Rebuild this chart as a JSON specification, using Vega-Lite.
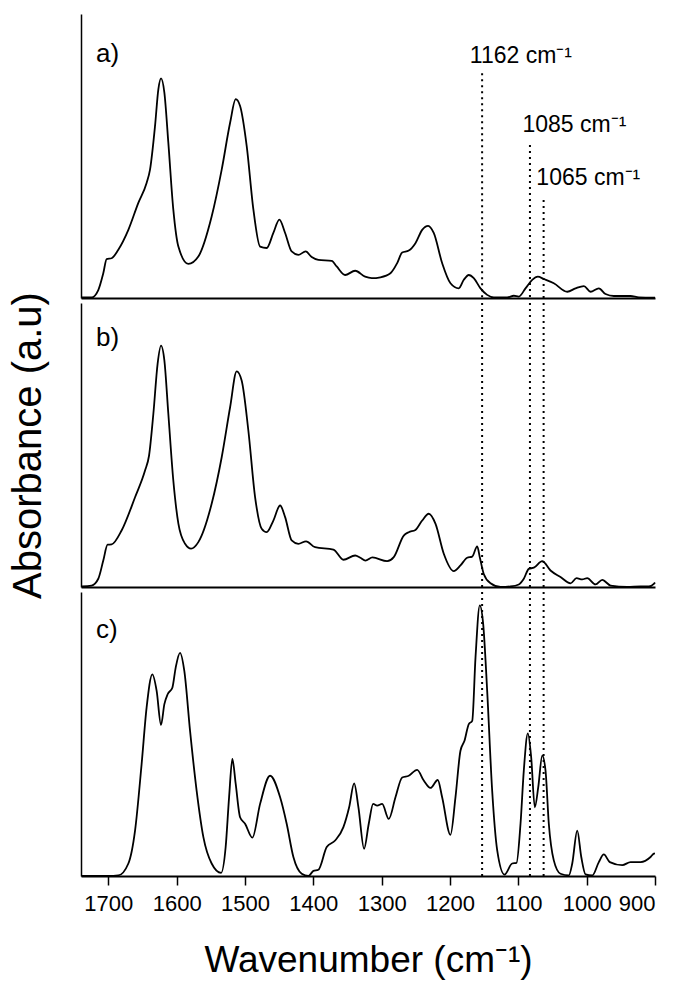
{
  "$schema": "https://vega.github.io/schema/vega-lite/v6.json",
  "padding": {"left": 8, "top": 14, "right": 5, "bottom": 5},
  "background": "white",
  "spacing": 5,
  "bounds": "flush",
  "config": {
    "font": "Liberation Sans",
    "view": {"stroke": null},
    "concat": {"spacing": 5},
    "axis": {"domainColor": "black", "tickColor": "black", "labelColor": "black", "titleColor": "black", "titleFontWeight": "normal", "grid": false, "minExtent": 0}
  },
  "datasets": {
    "spectra": [
      {"panel":"a","wn":1739,"abs":0.2},{"panel":"a","wn":1724.5,"abs":0.2},{"panel":"a","wn":1714.7,"abs":2.8},{"panel":"a","wn":1707.4,"abs":8.7},{"panel":"a","wn":1702.5,"abs":13.7},{"panel":"a","wn":1695.2,"abs":14.0},{"panel":"a","wn":1685.4,"abs":17.0},{"panel":"a","wn":1670.7,"abs":24.0},{"panel":"a","wn":1656.1,"abs":33.5},{"panel":"a","wn":1644,"abs":40.5},{"panel":"a","wn":1639,"abs":45.2},{"panel":"a","wn":1631.7,"abs":60.5},{"panel":"a","wn":1626.8,"abs":73.5},{"panel":"a","wn":1622.9,"abs":77.3},{"panel":"a","wn":1618,"abs":72.3},{"panel":"a","wn":1612.2,"abs":54.7},{"panel":"a","wn":1604.9,"abs":31.1},{"panel":"a","wn":1597.5,"abs":18.1},{"panel":"a","wn":1582.9,"abs":12.0},{"panel":"a","wn":1568.3,"abs":14.6},{"panel":"a","wn":1548.8,"abs":28.7},{"panel":"a","wn":1534.1,"abs":45.2},{"panel":"a","wn":1521.8,"abs":61.7},{"panel":"a","wn":1513.6,"abs":70.0},{"panel":"a","wn":1507.2,"abs":67.6},{"panel":"a","wn":1497.5,"abs":53.5},{"panel":"a","wn":1487.7,"abs":31.1},{"panel":"a","wn":1477.9,"abs":18.1},{"panel":"a","wn":1468.3,"abs":17.6},{"panel":"a","wn":1458.5,"abs":22.9},{"panel":"a","wn":1449.7,"abs":27.6},{"panel":"a","wn":1441.3,"abs":22.9},{"panel":"a","wn":1431.7,"abs":16.4},{"panel":"a","wn":1421.9,"abs":15.2},{"panel":"a","wn":1411.2,"abs":16.4},{"panel":"a","wn":1402.4,"abs":14.4},{"panel":"a","wn":1392.6,"abs":13.4},{"panel":"a","wn":1373.1,"abs":13.1},{"panel":"a","wn":1365.8,"abs":11.1},{"panel":"a","wn":1353.5,"abs":8.1},{"panel":"a","wn":1338.8,"abs":9.6},{"panel":"a","wn":1324.2,"abs":7.5},{"panel":"a","wn":1314.5,"abs":7.0},{"panel":"a","wn":1301.8,"abs":7.3},{"panel":"a","wn":1287.2,"abs":8.7},{"panel":"a","wn":1277.3,"abs":12.3},{"panel":"a","wn":1270,"abs":16.0},{"panel":"a","wn":1260.4,"abs":16.7},{"panel":"a","wn":1250.6,"abs":19.3},{"panel":"a","wn":1240.7,"abs":24.0},{"panel":"a","wn":1232,"abs":25.4},{"panel":"a","wn":1223.8,"abs":22.9},{"panel":"a","wn":1211.5,"abs":12.3},{"panel":"a","wn":1199.3,"abs":5.2},{"panel":"a","wn":1187.2,"abs":3.4},{"panel":"a","wn":1179.8,"abs":6.4},{"panel":"a","wn":1172.5,"abs":8.1},{"panel":"a","wn":1165.2,"abs":7.0},{"panel":"a","wn":1155.4,"abs":3.4},{"panel":"a","wn":1145.6,"abs":1.1},{"panel":"a","wn":1135.9,"abs":0.2},{"panel":"a","wn":1116.3,"abs":0.2},{"panel":"a","wn":1106.6,"abs":0.8},{"panel":"a","wn":1099.3,"abs":0.5},{"panel":"a","wn":1089.5,"abs":3.4},{"panel":"a","wn":1079.7,"abs":6.4},{"panel":"a","wn":1071.5,"abs":7.5},{"panel":"a","wn":1062.7,"abs":6.7},{"panel":"a","wn":1048.1,"abs":5.2},{"panel":"a","wn":1028.4,"abs":2.2},{"panel":"a","wn":1016.3,"abs":3.4},{"panel":"a","wn":1004.1,"abs":4.2},{"panel":"a","wn":994.3,"abs":2.2},{"panel":"a","wn":982.2,"abs":3.4},{"panel":"a","wn":972.4,"abs":1.4},{"panel":"a","wn":960.2,"abs":0.7},{"panel":"a","wn":935.8,"abs":0.7},{"panel":"a","wn":923.6,"abs":0.2},{"panel":"a","wn":900,"abs":0.1},
      {"panel":"b","wn":1739,"abs":0.2},{"panel":"b","wn":1724.5,"abs":0.5},{"panel":"b","wn":1714.7,"abs":2.9},{"panel":"b","wn":1707.4,"abs":9.3},{"panel":"b","wn":1701.1,"abs":14.9},{"panel":"b","wn":1695.2,"abs":15.0},{"panel":"b","wn":1680.6,"abs":19.9},{"panel":"b","wn":1660.9,"abs":31.6},{"panel":"b","wn":1646.3,"abs":41.0},{"panel":"b","wn":1640.4,"abs":46.3},{"panel":"b","wn":1634.1,"abs":61.0},{"panel":"b","wn":1627.9,"abs":78.6},{"panel":"b","wn":1622.9,"abs":85.0},{"panel":"b","wn":1618,"abs":79.8},{"panel":"b","wn":1612.2,"abs":61.0},{"panel":"b","wn":1604.9,"abs":37.5},{"panel":"b","wn":1597.5,"abs":22.3},{"panel":"b","wn":1587.7,"abs":15.2},{"panel":"b","wn":1578.9,"abs":13.5},{"panel":"b","wn":1568.3,"abs":15.8},{"panel":"b","wn":1548.8,"abs":29.3},{"panel":"b","wn":1534.1,"abs":45.7},{"panel":"b","wn":1521.8,"abs":63.3},{"panel":"b","wn":1512.2,"abs":75.9},{"panel":"b","wn":1504.9,"abs":72.7},{"panel":"b","wn":1495.1,"abs":55.1},{"panel":"b","wn":1485.2,"abs":31.6},{"panel":"b","wn":1475.6,"abs":20.5},{"panel":"b","wn":1468.3,"abs":19.3},{"panel":"b","wn":1458.5,"abs":23.4},{"panel":"b","wn":1448.6,"abs":28.7},{"panel":"b","wn":1441.3,"abs":24.6},{"panel":"b","wn":1431.7,"abs":16.4},{"panel":"b","wn":1421.9,"abs":15.2},{"panel":"b","wn":1410.6,"abs":16.1},{"panel":"b","wn":1397.4,"abs":14.0},{"panel":"b","wn":1370.6,"abs":13.2},{"panel":"b","wn":1356,"abs":9.6},{"panel":"b","wn":1338.8,"abs":11.1},{"panel":"b","wn":1331.1,"abs":10.3},{"panel":"b","wn":1323.8,"abs":9.3},{"panel":"b","wn":1313.5,"abs":10.4},{"panel":"b","wn":1292,"abs":9.1},{"panel":"b","wn":1282.3,"abs":10.5},{"panel":"b","wn":1267.7,"abs":18.1},{"panel":"b","wn":1260.4,"abs":19.3},{"panel":"b","wn":1250.6,"abs":20.1},{"panel":"b","wn":1240.7,"abs":23.4},{"panel":"b","wn":1231.1,"abs":25.8},{"panel":"b","wn":1221.3,"abs":22.3},{"panel":"b","wn":1209.1,"abs":11.7},{"panel":"b","wn":1194.5,"abs":5.6},{"panel":"b","wn":1184.7,"abs":7.6},{"panel":"b","wn":1174.9,"abs":10.3},{"panel":"b","wn":1167.5,"abs":10.7},{"panel":"b","wn":1160.2,"abs":14.3},{"panel":"b","wn":1156.4,"abs":10.5},{"panel":"b","wn":1150.6,"abs":4.6},{"panel":"b","wn":1140.7,"abs":1.3},{"panel":"b","wn":1126.1,"abs":0},{"panel":"b","wn":1111.5,"abs":0.2},{"panel":"b","wn":1099.3,"abs":0.9},{"panel":"b","wn":1092,"abs":2.9},{"panel":"b","wn":1084.7,"abs":6.4},{"panel":"b","wn":1077.3,"abs":6.8},{"panel":"b","wn":1065,"abs":9.1},{"panel":"b","wn":1052.9,"abs":5.8},{"panel":"b","wn":1038.3,"abs":3.5},{"panel":"b","wn":1023.6,"abs":1.3},{"panel":"b","wn":1014.8,"abs":3.1},{"panel":"b","wn":1006.5,"abs":2.7},{"panel":"b","wn":999.2,"abs":3.1},{"panel":"b","wn":987,"abs":0.9},{"panel":"b","wn":977.2,"abs":2.5},{"panel":"b","wn":965,"abs":0.5},{"panel":"b","wn":940.6,"abs":0},{"panel":"b","wn":921.1,"abs":0.2},{"panel":"b","wn":909,"abs":0.2},{"panel":"b","wn":901.7,"abs":1.1},{"panel":"b","wn":900,"abs":1.6},
      {"panel":"c","wn":1739,"abs":0},{"panel":"c","wn":1700,"abs":0},{"panel":"c","wn":1685.4,"abs":0.2},{"panel":"c","wn":1670.7,"abs":4.4},{"panel":"c","wn":1660.9,"abs":16.0},{"panel":"c","wn":1651.3,"abs":39.4},{"panel":"c","wn":1644,"abs":59.3},{"panel":"c","wn":1635.6,"abs":71.0},{"panel":"c","wn":1629.3,"abs":65.2},{"panel":"c","wn":1622.9,"abs":53.2},{"panel":"c","wn":1618,"abs":60.5},{"panel":"c","wn":1613.2,"abs":64.0},{"panel":"c","wn":1606.3,"abs":66.3},{"panel":"c","wn":1601.5,"abs":73.3},{"panel":"c","wn":1595.1,"abs":78.6},{"panel":"c","wn":1588.8,"abs":72.2},{"panel":"c","wn":1580.4,"abs":51.1},{"panel":"c","wn":1570.8,"abs":30.1},{"panel":"c","wn":1560.9,"abs":13.7},{"panel":"c","wn":1548.8,"abs":4.4},{"panel":"c","wn":1535,"abs":1.1},{"panel":"c","wn":1528.3,"abs":10.2},{"panel":"c","wn":1523.3,"abs":27.7},{"panel":"c","wn":1518.5,"abs":41.2},{"panel":"c","wn":1513.6,"abs":32.4},{"panel":"c","wn":1507.2,"abs":20.7},{"panel":"c","wn":1499.9,"abs":18.4},{"panel":"c","wn":1489.2,"abs":13.5},{"panel":"c","wn":1477.9,"abs":25.4},{"panel":"c","wn":1463.3,"abs":35.3},{"panel":"c","wn":1448.6,"abs":27.7},{"panel":"c","wn":1439,"abs":18.4},{"panel":"c","wn":1429.2,"abs":6.7},{"panel":"c","wn":1417,"abs":0.8},{"panel":"c","wn":1407.2,"abs":0},{"panel":"c","wn":1399.9,"abs":1.8},{"panel":"c","wn":1392.6,"abs":2.2},{"panel":"c","wn":1380.4,"abs":10.2},{"panel":"c","wn":1368.1,"abs":12.5},{"panel":"c","wn":1356,"abs":17.2},{"panel":"c","wn":1347.6,"abs":24.2},{"panel":"c","wn":1340.3,"abs":32.6},{"panel":"c","wn":1334,"abs":24.2},{"panel":"c","wn":1325.7,"abs":9.6},{"panel":"c","wn":1318.9,"abs":18.4},{"panel":"c","wn":1312.5,"abs":25.4},{"panel":"c","wn":1306.6,"abs":24.8},{"panel":"c","wn":1299.3,"abs":25.4},{"panel":"c","wn":1289.6,"abs":20.1},{"panel":"c","wn":1279.8,"abs":27.7},{"panel":"c","wn":1270,"abs":34.7},{"panel":"c","wn":1260.4,"abs":35.3},{"panel":"c","wn":1248.1,"abs":37.4},{"panel":"c","wn":1238.4,"abs":33.6},{"panel":"c","wn":1228.6,"abs":31.0},{"panel":"c","wn":1217.9,"abs":33.8},{"panel":"c","wn":1211.5,"abs":27.7},{"panel":"c","wn":1199.3,"abs":14.5},{"panel":"c","wn":1192,"abs":27.7},{"panel":"c","wn":1184.7,"abs":44.1},{"panel":"c","wn":1178.8,"abs":47.6},{"panel":"c","wn":1172.5,"abs":53.5},{"panel":"c","wn":1167.5,"abs":54.6},{"panel":"c","wn":1162.7,"abs":76.8},{"panel":"c","wn":1156.4,"abs":95.3},{"panel":"c","wn":1151.4,"abs":88.6},{"panel":"c","wn":1145.6,"abs":65.2},{"panel":"c","wn":1138.3,"abs":30.1},{"panel":"c","wn":1130.9,"abs":9.0},{"panel":"c","wn":1120.3,"abs":0.5},{"panel":"c","wn":1109,"abs":4.4},{"panel":"c","wn":1102.7,"abs":4.6},{"panel":"c","wn":1096.8,"abs":18.4},{"panel":"c","wn":1092,"abs":37.1},{"panel":"c","wn":1086.1,"abs":50.2},{"panel":"c","wn":1081.2,"abs":41.8},{"panel":"c","wn":1075.9,"abs":24.2},{"panel":"c","wn":1070.9,"abs":31.2},{"panel":"c","wn":1065,"abs":42.4},{"panel":"c","wn":1060.2,"abs":37.1},{"panel":"c","wn":1055.4,"abs":18.4},{"panel":"c","wn":1048.1,"abs":5.5},{"panel":"c","wn":1038.3,"abs":0.8},{"panel":"c","wn":1026.1,"abs":0.2},{"panel":"c","wn":1021.1,"abs":4.4},{"panel":"c","wn":1013.8,"abs":16.0},{"panel":"c","wn":1007.9,"abs":6.7},{"panel":"c","wn":1001.7,"abs":0.6},{"panel":"c","wn":991.8,"abs":0.2},{"panel":"c","wn":982.2,"abs":4.9},{"panel":"c","wn":974.9,"abs":7.6},{"panel":"c","wn":966.1,"abs":4.9},{"panel":"c","wn":947.9,"abs":3.8},{"panel":"c","wn":935.8,"abs":4.9},{"panel":"c","wn":921.1,"abs":4.9},{"panel":"c","wn":906.5,"abs":6.7},{"panel":"c","wn":901.7,"abs":7.9},{"panel":"c","wn":900,"abs":8.0}
    ],
    "markers": [
      {"wn":1153,"top":79.1,"label":"1162 cm⁻¹","labelWn":1171,"labelAbs":82.6},
      {"wn":1083,"top":53.9,"label":"1085 cm⁻¹","labelWn":1094,"labelAbs":58.6},
      {"wn":1063,"top":34.5,"label":"1065 cm⁻¹","labelWn":1073.6,"labelAbs":39.8}
    ],
    "panels": [
      {"panel":"a","label":"a)","wn":1718,"abs":83.2},
      {"panel":"b","label":"b)","wn":1718,"abs":84.8},
      {"panel":"c","label":"c)","wn":1718,"abs":83.7}
    ]
  },
  "vconcat": [
    {
      "width": 574, "height": 284,
      "layer": [
        {
          "data": {"name": "spectra"},
          "transform": [{"filter": "datum.panel === 'a'"}],
          "mark": {"type": "line", "color": "black", "strokeWidth": 1.8, "interpolate": "monotone"},
          "encoding": {
            "x": {"field": "wn", "type": "quantitative", "scale": {"domain": [900, 1740], "reverse": true, "nice": false, "zero": false},
                  "axis": {"labels": false, "ticks": false, "title": null, "domainWidth": 2}},
            "y": {"field": "abs", "type": "quantitative", "scale": {"domain": [0, 100], "nice": false},
                  "axis": {"labels": false, "ticks": false, "title": null, "domainWidth": 1.5}}
          }
        },
        {
          "data": {"name": "markers"},
          "mark": {"type": "rule", "color": "black", "strokeWidth": 2, "strokeDash": [2, 4]},
          "encoding": {
            "x": {"field": "wn", "type": "quantitative"},
            "y": {"field": "top", "type": "quantitative"},
            "y2": {"datum": 0}
          }
        },
        {
          "data": {"name": "markers"},
          "mark": {"type": "text", "align": "left", "baseline": "alphabetic", "fontSize": 23, "color": "black"},
          "encoding": {
            "x": {"field": "labelWn", "type": "quantitative"},
            "y": {"field": "labelAbs", "type": "quantitative"},
            "text": {"field": "label"}
          }
        },
        {
          "data": {"name": "panels"},
          "transform": [{"filter": "datum.panel === 'a'"}],
          "mark": {"type": "text", "align": "left", "baseline": "alphabetic", "fontSize": 26, "color": "black"},
          "encoding": {
            "x": {"field": "wn", "type": "quantitative"},
            "y": {"field": "abs", "type": "quantitative"},
            "text": {"field": "label"}
          }
        }
      ]
    },
    {
      "width": 574, "height": 284,
      "layer": [
        {
          "data": {"name": "spectra"},
          "transform": [{"filter": "datum.panel === 'b'"}],
          "mark": {"type": "line", "color": "black", "strokeWidth": 1.8, "interpolate": "monotone"},
          "encoding": {
            "x": {"field": "wn", "type": "quantitative", "scale": {"domain": [900, 1740], "reverse": true, "nice": false, "zero": false},
                  "axis": {"labels": false, "ticks": false, "title": null, "domainWidth": 2}},
            "y": {"field": "abs", "type": "quantitative", "scale": {"domain": [0, 100], "nice": false},
                  "axis": {"labels": false, "ticks": false, "title": "Absorbance (a.u)", "titleFontSize": 40, "titlePadding": 40.7, "titleBaseline": "alphabetic", "domainWidth": 1.5}}
          }
        },
        {
          "data": {"name": "markers"},
          "mark": {"type": "rule", "color": "black", "strokeWidth": 2, "strokeDash": [2, 4]},
          "encoding": {
            "x": {"field": "wn", "type": "quantitative"}
          }
        },
        {
          "data": {"name": "panels"},
          "transform": [{"filter": "datum.panel === 'b'"}],
          "mark": {"type": "text", "align": "left", "baseline": "alphabetic", "fontSize": 26, "color": "black"},
          "encoding": {
            "x": {"field": "wn", "type": "quantitative"},
            "y": {"field": "abs", "type": "quantitative"},
            "text": {"field": "label"}
          }
        }
      ]
    },
    {
      "width": 574, "height": 284,
      "layer": [
        {
          "data": {"name": "spectra"},
          "transform": [{"filter": "datum.panel === 'c'"}],
          "mark": {"type": "line", "color": "black", "strokeWidth": 1.8, "interpolate": "monotone"},
          "encoding": {
            "x": {"field": "wn", "type": "quantitative", "scale": {"domain": [900, 1740], "reverse": true, "nice": false, "zero": false},
                  "axis": {"values": [1700, 1600, 1500, 1400, 1300, 1200, 1100, 1000, 900], "format": "d", "tickSize": 9, "tickWidth": 1.5, "labelFontSize": 22, "labelPadding": 8, "domainWidth": 2,
                           "title": "Wavenumber (cm⁻¹)", "titleFontSize": 37, "titlePadding": 28}},
            "y": {"field": "abs", "type": "quantitative", "scale": {"domain": [0, 100], "nice": false},
                  "axis": {"labels": false, "ticks": false, "title": null, "domainWidth": 1.5}}
          }
        },
        {
          "data": {"name": "markers"},
          "mark": {"type": "rule", "color": "black", "strokeWidth": 2, "strokeDash": [2, 4]},
          "encoding": {
            "x": {"field": "wn", "type": "quantitative"}
          }
        },
        {
          "data": {"name": "panels"},
          "transform": [{"filter": "datum.panel === 'c'"}],
          "mark": {"type": "text", "align": "left", "baseline": "alphabetic", "fontSize": 26, "color": "black"},
          "encoding": {
            "x": {"field": "wn", "type": "quantitative"},
            "y": {"field": "abs", "type": "quantitative"},
            "text": {"field": "label"}
          }
        }
      ]
    }
  ]
}
